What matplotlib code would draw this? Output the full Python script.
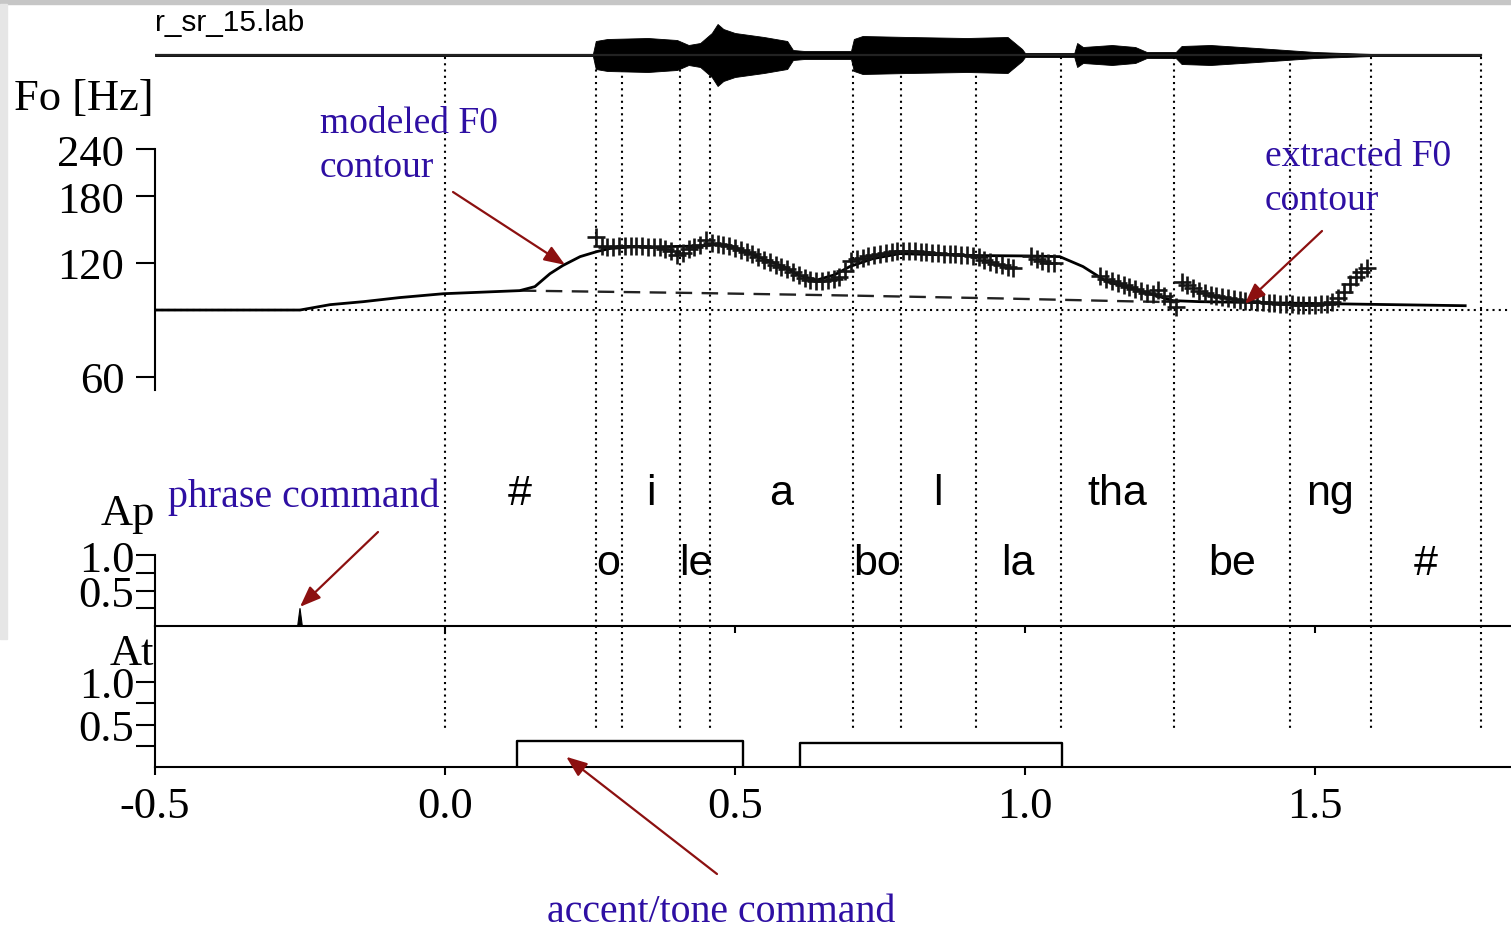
import numpy as np
import matplotlib.pyplot as plt
from matplotlib.patches import Rectangle
from matplotlib.ticker import NullLocator

plt.rcParams['font.family'] = ['Liberation Serif', 'DejaVu Serif']
plt.rcParams['axes.unicode_minus'] = False

W, H = 1511, 928


def fx(x):
    return x / W


def fy(y):
    return 1 - y / H


# segment boundaries (s) and labels
boundaries = [0.0, 0.260, 0.305, 0.405, 0.457, 0.703, 0.786, 0.916, 1.062, 1.257, 1.457, 1.597, 1.786]
upperLabels = ['#', 'i', 'a', 'l', 'tha', 'ng']
upperTimes = [0.129, 0.355, 0.579, 0.850, 1.159, 1.526]
lowerLabels = ['o', 'le', 'bo', 'la', 'be', '#']
lowerTimes = [0.281, 0.433, 0.745, 0.988, 1.357, 1.691]

# modeled F0 contour
modelT = [-0.5, -0.25, -0.198, -0.141, -0.078, -0.003, 0.060, 0.129, 0.155, 0.181, 0.203, 0.233,
          0.262, 0.284, 0.319, 0.388, 0.440, 0.466, 0.491, 0.526, 0.583, 0.612, 0.641, 0.672,
          0.698, 0.738, 0.784, 0.836, 0.922, 1.009, 1.060, 1.100, 1.141, 1.186, 1.255, 1.302,
          1.531, 1.759]
modelF = [90.0, 90.0, 93.0, 94.7, 97.1, 99.4, 100.3, 101.3, 103.8, 112.3, 118.0, 124.6,
          128.5, 130.9, 132.1, 132.5, 132.9, 134.1, 133.3, 126.9, 117.3, 111.0, 108.0, 111.6,
          117.3, 123.1, 126.9, 126.2, 125.4, 125.1, 124.6, 117.3, 107.0, 102.5, 95.3, 94.7,
          93.5, 92.4]

# phrase component (dashed)
phraseT = [0.129, 0.440, 0.698, 0.957, 1.181, 1.259]
phraseF = [101.3, 99.8, 98.3, 96.6, 94.9, 94.4]

baseF = 90

# extracted F0 (10 ms frames), one list per voiced stretch
frameStep = 0.01
seg1Start = 0.26
seg1F = [140.0, 133.3, 132.5, 132.5, 132.9, 133.3, 133.3, 133.3, 132.9, 132.5, 132.5, 132.1,
         130.9, 129.3, 126.2, 127.7, 130.9, 132.5, 134.1, 138.3, 135.7, 134.9, 134.1, 133.3,
         131.7, 130.1, 128.5, 126.9, 124.6, 122.4, 120.9, 118.7, 117.2, 115.8, 113.7, 111.7,
         109.7, 108.3, 107.6, 107.6, 108.3, 109.0, 110.3, 114.4, 121.6, 123.1, 123.8, 125.4,
         126.2, 126.9, 127.7, 128.5, 129.3, 129.3, 129.3, 128.9, 128.5, 128.5, 127.7, 127.7,
         126.9, 126.9, 126.9, 126.2, 126.2, 125.4, 124.6, 122.4, 120.9, 119.4, 118.7, 117.2,
         116.5]
seg2Start = 1.01
seg2F = [125.4, 123.1, 121.6, 120.1, 120.1]
seg3Start = 1.13
seg3F = [110.9, 109.0, 107.6, 106.3, 105.0, 103.8, 102.5, 101.3, 100.0, 99.4, 101.9, 98.2,
         95.3, 91.9]
seg4Start = 1.27
seg4F = [107.0, 105.0, 103.1, 101.3, 100.0, 98.8, 98.2, 97.6, 97.0, 96.4, 95.8, 95.3, 95.0,
         94.7, 94.4, 94.1, 93.8, 93.5, 93.5, 93.2, 93.0, 93.0, 93.0, 93.0, 93.2, 93.5, 94.7,
         97.0, 100.7, 105.7, 110.3, 113.7, 116.5]
segments = [(seg1Start, seg1F), (seg2Start, seg2F), (seg3Start, seg3F), (seg4Start, seg4F)]

# commands
phraseCmdT = [-0.25]
phraseCmdAp = [0.25]
accentOn = [0.124, 0.612]
accentOff = [0.514, 1.064]
accentAt = [0.31, 0.28]

# speech waveform envelope (arbitrary amplitude)
waveT = [-0.5, 0.255, 0.260, 0.28, 0.35, 0.40, 0.42, 0.44, 0.46, 0.47, 0.48, 0.50, 0.55, 0.59,
         0.60, 0.62, 0.70, 0.705, 0.72, 0.80, 0.90, 0.97, 0.995, 1.0, 1.085, 1.09, 1.10, 1.15,
         1.19, 1.21, 1.26, 1.27, 1.32, 1.40, 1.45, 1.50, 1.55, 1.60, 1.786]
waveAmp = [1, 1, 14, 16, 17, 15, 10, 12, 22, 31, 26, 22, 18, 14,
           5, 4, 4, 16, 19, 18, 17, 18, 6, 2, 2, 12, 8, 10,
           8, 3, 3, 9, 10, 7, 5, 3, 2, 1, 1]

xlim = (-0.5, 1.838)
noteColor = '#2e0fa3'
arrowColor = '#8c1010'
arrowProps = dict(arrowstyle='-|>,head_length=0.9,head_width=0.35', color=arrowColor,
                  lw=1.6, mutation_scale=14, shrinkA=0, shrinkB=0)

fig = plt.figure(figsize=(W / 100, H / 100), dpi=100)
fig.patch.set_facecolor('white')
fig.patches.append(Rectangle((0, fy(5)), 1, 5 / H, transform=fig.transFigure,
                             color='#c6c6c6', zorder=0))
fig.patches.append(Rectangle((0, fy(640)), fx(7), 635 / H, transform=fig.transFigure,
                             color='#e6e6e6', zorder=0))

left = fx(155)
width = fx(W - 155)

# overlay for segment boundaries and labels
axOv = fig.add_axes([left, 0, width, 1])
axOv.set_xlim(xlim)
axOv.set_ylim(H, 0)
axOv.axis('off')
axOv.vlines(boundaries, 58, 733, colors='black', linestyles=(0, (1, 2)), lw=1.5)
for lab, t in zip(upperLabels, upperTimes):
    axOv.text(t, 505, lab, ha='center', va='baseline', fontsize=31,
              family=['Liberation Sans', 'DejaVu Sans'])
for lab, t in zip(lowerLabels, lowerTimes):
    axOv.text(t, 575, lab, ha='center', va='baseline', fontsize=31,
              family=['Liberation Sans', 'DejaVu Sans'])

# waveform
axW = fig.add_axes([left, fy(91), width, 70 / H])
axW.set_xlim(xlim)
axW.set_ylim(-35, 35)
axW.axis('off')
axW.patch.set_alpha(0)
axW.plot([waveT[0], waveT[-1]], [0, 0], color='#222222', lw=1.6)
axW.fill_between(waveT, [-a for a in waveAmp], waveAmp, color='black', lw=0.6)
fig.text(fx(155), fy(31), 'r_sr_15.lab', fontsize=21.5, family=['Liberation Sans', 'DejaVu Sans'],
         va='baseline')

# F0 panel
axF = fig.add_axes([left, fy(391), width, (391 - 150) / H])
axF.patch.set_alpha(0)
axF.set_xlim(xlim)
axF.set_yscale('log')
axF.set_ylim(55.3, 240)
axF.yaxis.set_minor_locator(NullLocator())
axF.set_yticks([60, 120, 180, 240])
axF.set_yticklabels(['60', '120', '180', '240'])
for s in ['top', 'right', 'bottom']:
    axF.spines[s].set_visible(False)
axF.spines['left'].set_linewidth(1.5)
axF.set_xticks([])
axF.tick_params(axis='y', length=14, width=1.5, pad=8, labelsize=32)
axF.axhline(baseF, color='black', ls=(0, (1, 2)), lw=1.5)
axF.plot(phraseT, phraseF, color='#222222', lw=1.7, ls=(0, (7, 4)))
axF.plot(modelT, modelF, color='black', lw=2.0)
for start, vals in segments:
    ts = start + frameStep * np.arange(len(vals))
    axF.plot(ts, vals, '+', ms=13, mew=1.9, color='#151515')
fig.text(fx(14), fy(110), 'Fo [Hz]', fontsize=32, va='baseline')

# Ap panel
axP = fig.add_axes([left, fy(627), width, (627 - 556) / H])
axP.patch.set_alpha(0)
axP.set_xlim(xlim)
axP.set_ylim(0, 1)
for s in ['top', 'right']:
    axP.spines[s].set_visible(False)
axP.spines['left'].set_linewidth(1.5)
axP.spines['bottom'].set_linewidth(1.5)
axP.set_yticks([0.25, 0.5, 0.75, 1.0])
axP.set_yticklabels(['', '0.5', '', '1.0'])
axP.tick_params(axis='y', length=14, width=1.5, pad=1, labelsize=32)
axP.set_xticks([0, 0.5, 1.0, 1.5])
axP.set_xticklabels([])
axP.tick_params(axis='x', length=5, width=1.5)
for t, a in zip(phraseCmdT, phraseCmdAp):
    axP.fill([t - 0.004, t, t + 0.004], [0, a, 0], color='black', lw=0.8)
fig.text(fx(101), fy(525), 'Ap', fontsize=32, va='baseline')

# At panel
axA = fig.add_axes([left, fy(768), width, (768 - 627) / H])
axA.patch.set_alpha(0)
axA.set_xlim(xlim)
axA.set_ylim(0, 141 / 85)
for s in ['top', 'right']:
    axA.spines[s].set_visible(False)
axA.spines['left'].set_linewidth(1.5)
axA.spines['bottom'].set_linewidth(1.5)
axA.set_yticks([0.25, 0.5, 0.75, 1.0])
axA.set_yticklabels(['', '0.5', '', '1.0'])
axA.tick_params(axis='y', length=14, width=1.5, pad=1, labelsize=32)
axA.set_xticks([-0.5, 0.0, 0.5, 1.0, 1.5])
axA.set_xticklabels(['-0.5', '0.0', '0.5', '1.0', '1.5'])
axA.tick_params(axis='x', length=6, width=1.5, pad=8, labelsize=32)
for on, off, a in zip(accentOn, accentOff, accentAt):
    axA.plot([on, on, off, off], [0, a, a, 0], color='black', lw=1.7)
fig.text(fx(110), fy(665), 'At', fontsize=32, va='baseline')

# annotations
axF.annotate('', xy=(0.207, 118.5), xytext=(fx(453), fy(193)), textcoords='figure fraction',
             arrowprops=arrowProps, annotation_clip=False)
axF.annotate('', xy=(1.379, 93.5), xytext=(fx(1322), fy(232)), textcoords='figure fraction',
             arrowprops=arrowProps, annotation_clip=False)
axP.annotate('', xy=(-0.25, 0.27), xytext=(fx(378), fy(533)), textcoords='figure fraction',
             arrowprops=arrowProps, annotation_clip=False)
axA.annotate('', xy=(0.209, 0.12), xytext=(fx(717), fy(875)), textcoords='figure fraction',
             arrowprops=arrowProps, annotation_clip=False)

fig.text(fx(320), fy(133), 'modeled F0', fontsize=27, color=noteColor, va='baseline')
fig.text(fx(320), fy(177), 'contour', fontsize=27, color=noteColor, va='baseline')
fig.text(fx(1265), fy(166), 'extracted F0', fontsize=27, color=noteColor, va='baseline')
fig.text(fx(1265), fy(210), 'contour', fontsize=27, color=noteColor, va='baseline')
fig.text(fx(168), fy(507), 'phrase command', fontsize=28.7, color=noteColor, va='baseline')
fig.text(fx(547), fy(922), 'accent/tone command', fontsize=28.7, color=noteColor, va='baseline')

fig.savefig('out.png', dpi=100, facecolor=fig.get_facecolor())
